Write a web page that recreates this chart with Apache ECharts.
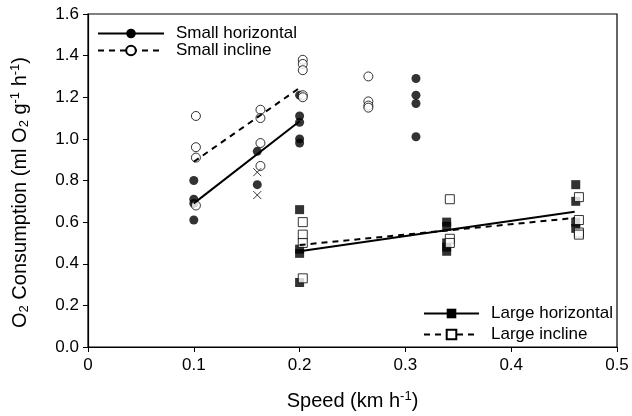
<!DOCTYPE html>
<html><head><meta charset="utf-8">
<script src="https://cdn.jsdelivr.net/npm/echarts@6/dist/echarts.min.js"></script>
<style>html,body{margin:0;padding:0;background:#fff}#c{width:632px;height:416px}</style>
</head><body><div id="c"></div>
<script>
// Small animals, horizontal (filled circles)
const smallHorizontal = [[0.1,0.80],[0.1,0.71],[0.1,0.69],[0.1,0.61],[0.16,0.94],[0.16,0.78],
  [0.2,1.21],[0.2,1.11],[0.2,1.08],[0.2,1.00],[0.2,0.98],[0.31,1.29],[0.31,1.21],[0.31,1.17],[0.31,1.01]];
// Small animals, incline (open circles)
const smallIncline = [[0.102,1.11],[0.102,0.96],[0.102,0.91],[0.102,0.68],[0.163,1.14],[0.163,1.10],[0.163,0.98],[0.163,0.87],
  [0.203,1.38],[0.203,1.36],[0.203,1.33],[0.203,1.21],[0.203,1.20],[0.265,1.30],[0.265,1.18],[0.265,1.16],[0.265,1.15]];
// Crosses
const crosses = [[0.16,0.84],[0.16,0.73]];
// Large animals, horizontal (filled squares)
const largeHorizontal = [[0.2,0.66],[0.2,0.47],[0.2,0.45],[0.2,0.31],[0.339,0.60],[0.339,0.58],[0.339,0.50],[0.339,0.48],[0.339,0.46],
  [0.461,0.78],[0.461,0.70],[0.461,0.60],[0.461,0.57]];
// Large animals, incline (open squares)
const largeIncline = [[0.203,0.60],[0.203,0.54],[0.203,0.50],[0.203,0.33],[0.342,0.71],[0.342,0.52],[0.342,0.50],
  [0.464,0.72],[0.464,0.61],[0.464,0.55],[0.464,0.54]];
// Regression lines
const fitSmallHorizontal = [[0.1,0.69],[0.2,1.085]];
const fitSmallIncline = [[0.1,0.89],[0.2,1.245]];
const fitLargeHorizontal = [[0.2,0.46],[0.46,0.65]];
const fitLargeIncline = [[0.2,0.49],[0.46,0.62]];
const xTicks = [0,0.1,0.2,0.3,0.4,0.5];
const yTicks = [0,0.2,0.4,0.6,0.8,1.0,1.2,1.4,1.6];

const F = 'Liberation Sans, Arial, sans-serif';
const chart = echarts.init(document.getElementById('c'));
const noSym = d => d.map(p => ({value: p, symbol: 'none'}));
const open = {color:'#fff', borderColor:'#000', borderWidth:1};
const filled = {color:'#000'};
chart.setOption({
  animation:false,
  grid:{left:88, right:15, top:14, bottom:69, show:true, borderColor:'#000', borderWidth:1.2, backgroundColor:'transparent'},
  xAxis:{type:'value', min:xTicks[0], max:xTicks[xTicks.length-1], interval:0.1,
    axisLine:{lineStyle:{color:'#000', width:1.2}}, axisTick:{length:5, lineStyle:{color:'#000'}},
    splitLine:{show:false},
    axisLabel:{color:'#000', fontFamily:F, fontSize:17, margin:10, formatter:v=>v===0?'0':v.toFixed(1)},
    name:'Speed (km h{s|-1})', nameLocation:'middle', nameGap:43,
    nameTextStyle:{color:'#000', fontFamily:F, fontSize:20, rich:{s:{fontSize:13, padding:[0,0,9,0], fontFamily:F, color:'#000'}}}},
  yAxis:{type:'value', min:yTicks[0], max:yTicks[yTicks.length-1], interval:0.2,
    axisLine:{lineStyle:{color:'#000', width:1.2}}, axisTick:{length:5, lineStyle:{color:'#000'}},
    splitLine:{show:false},
    axisLabel:{color:'#000', fontFamily:F, fontSize:17, margin:9, formatter:v=>v.toFixed(1)},
    name:'O{b|2} Consumption (ml O{b|2} g{s|-1} h{s|-1})', nameLocation:'middle', nameGap:57,
    nameTextStyle:{color:'#000', fontFamily:F, fontSize:20, padding:[0,24,0,0],
      rich:{b:{fontSize:13, padding:[9,0,0,0], fontFamily:F, color:'#000'}, s:{fontSize:13, padding:[0,0,9,0], fontFamily:F, color:'#000'}}}},
  legend:[
    {data:['Small horizontal','Small incline'], orient:'vertical', left:97, top:25, padding:0, itemWidth:66, itemHeight:12, itemGap:0,
      textStyle:{fontFamily:F, fontSize:17, lineHeight:17, color:'#000', padding:[0,0,0,7]}, selectedMode:false},
    {data:['Large horizontal','Large incline'], orient:'vertical', left:423, top:305, padding:0, itemWidth:55, itemHeight:12, itemGap:4,
      textStyle:{fontFamily:F, fontSize:17, lineHeight:17, color:'#000', padding:[0,0,0,7]}, selectedMode:false}
  ],
  series:[
    {name:'Small horizontal', type:'line', data:noSym(fitSmallHorizontal), symbol:'circle', symbolSize:9, itemStyle:filled, lineStyle:{color:'#000', width:2}, z:3},
    {name:'Small incline', type:'line', data:noSym(fitSmallIncline), symbol:'circle', symbolSize:9, itemStyle:open, lineStyle:{color:'#000', width:2, type:[6,5]}, z:3},
    {name:'Large horizontal', type:'line', data:noSym(fitLargeHorizontal), symbol:'rect', symbolSize:9, itemStyle:filled, lineStyle:{color:'#000', width:2}, z:3},
    {name:'Large incline', type:'line', data:noSym(fitLargeIncline), symbol:'rect', symbolSize:9, itemStyle:open, lineStyle:{color:'#000', width:2, type:[6,5]}, z:3},
    {name:'sh', type:'scatter', data:smallHorizontal, symbol:'circle', symbolSize:9, itemStyle:filled, z:2},
    {name:'si', type:'scatter', data:smallIncline, symbol:'circle', symbolSize:9, itemStyle:open, z:2},
    {name:'x', type:'scatter', data:crosses, symbol:'path://M0,0L10,10M10,0L0,10', symbolSize:8, itemStyle:{color:'none', borderColor:'#000', borderWidth:1}, z:2},
    {name:'lh', type:'scatter', data:largeHorizontal, symbol:'rect', symbolSize:9, itemStyle:filled, z:2},
    {name:'li', type:'scatter', data:largeIncline, symbol:'rect', symbolSize:9, itemStyle:open, z:2}
  ]
});
</script></body></html>
